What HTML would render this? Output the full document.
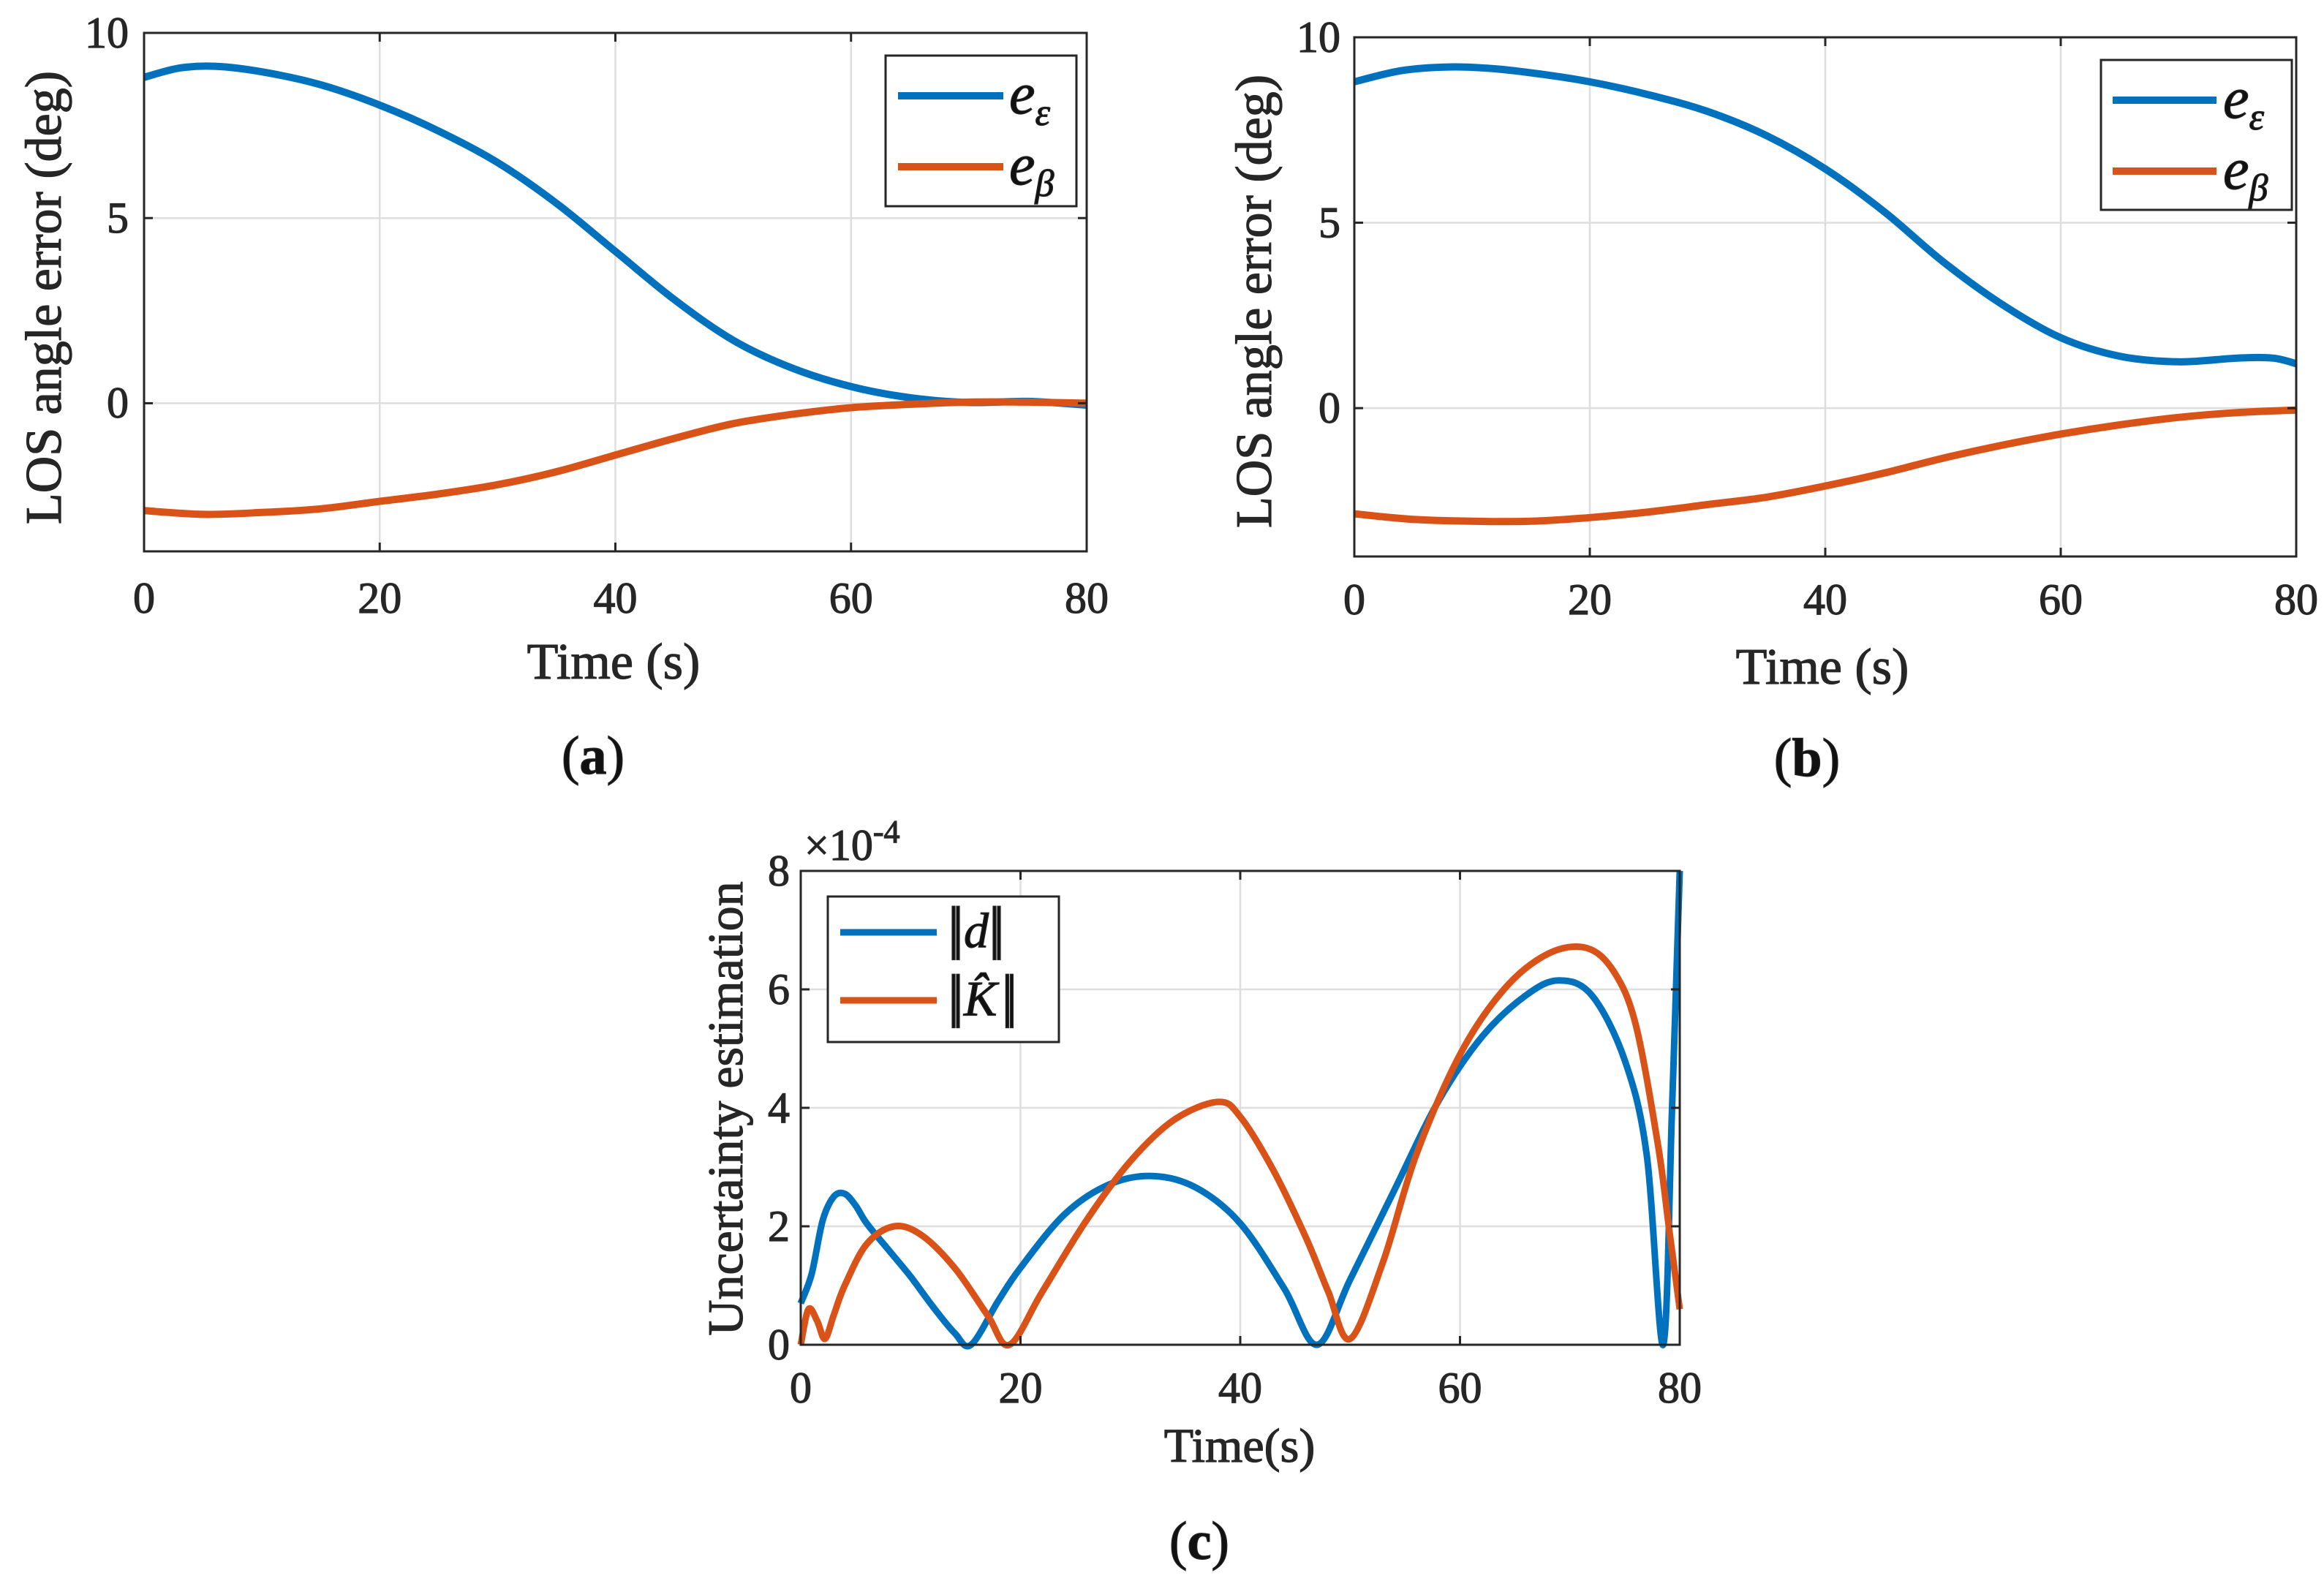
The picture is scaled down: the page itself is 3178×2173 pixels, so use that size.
<!DOCTYPE html>
<html><head><meta charset="utf-8">
<style>
html,body{margin:0;padding:0;background:#fff;}
svg{display:block;font-family:"Liberation Serif","DejaVu Serif",serif;}
svg text{stroke:currentColor;stroke-width:1.2;}
</style></head>
<body>
<svg id="fig" width="3178" height="2173" viewBox="0 0 3178 2173" xmlns="http://www.w3.org/2000/svg" style="color:#262626">
</svg>
<script>
// ---- data ----
const aTime = [0,3,6,10,15,20,25,30,35,40,45,50,55,60,65,70,75,80];
const aEps  = [8.8,9.05,9.1,8.95,8.6,8.05,7.35,6.5,5.4,4.1,2.8,1.7,0.95,0.45,0.15,0.02,0.05,-0.05];
const aBetaT = [0,5,10,15,20,25,30,35,40,45,50,55,60,65,70,75,80];
const aBeta = [-2.9,-3.0,-2.95,-2.85,-2.65,-2.45,-2.2,-1.85,-1.4,-0.95,-0.55,-0.3,-0.12,-0.03,0.03,0.03,0];
const bTime = [0,4,8,12,16,20,25,30,35,40,45,50,55,60,65,70,75,78,80];
const bEps  = [8.8,9.1,9.2,9.15,9.0,8.8,8.45,8.0,7.35,6.45,5.3,3.95,2.8,1.9,1.4,1.25,1.35,1.35,1.2];
const bBetaT = [0,5,10,15,20,25,30,35,40,45,50,55,60,65,70,75,80];
const bBeta = [-2.85,-3.0,-3.05,-3.05,-2.95,-2.8,-2.6,-2.4,-2.1,-1.75,-1.35,-1.0,-0.7,-0.45,-0.25,-0.12,-0.05];
const cDT = [0,1,2,3,4,5,6,8,10,12,14,15.5,18,20,24,28,32,36,40,44,47,50,54,58,62,66,69,72,75,77,78.5,79.3,80];
const cD  = [0.7,1.2,2.1,2.5,2.55,2.35,2.05,1.6,1.15,0.65,0.2,0,0.75,1.3,2.2,2.7,2.85,2.65,2.05,0.95,0,1.1,2.6,4.1,5.2,5.9,6.15,5.9,4.8,3.2,0,4,8];
const cKT = [0,0.7,1.5,2.2,3,4,6,8.5,11,14,17,19,22,26,30,34,38,40,43,46,48,50,53,56,60,64,68,71.5,74,76,78,79,80];
const cK  = [0,0.6,0.4,0.1,0.5,1.0,1.7,2.0,1.85,1.3,0.5,0,0.9,2.1,3.1,3.8,4.1,3.85,2.95,1.8,0.9,0.1,1.4,3.2,4.9,6.0,6.6,6.7,6.3,5.4,3.4,2.0,0.6];
const xTicks = [0,20,40,60,80];
const yTicksAB = [0,5,10];
const yTicksC = [0,2,4,6,8];

const NS="http://www.w3.org/2000/svg";
const svg=document.getElementById('fig');
function mk(tag,attrs,parent){const e=document.createElementNS(NS,tag);for(const k in attrs)e.setAttribute(k,attrs[k]);(parent||svg).appendChild(e);return e;}
function txt(s,attrs,parent){const e=mk('text',attrs,parent);e.textContent=s;return e;}
function smooth(pts){
  let d='M'+pts[0][0].toFixed(1)+','+pts[0][1].toFixed(1);
  for(let i=0;i<pts.length-1;i++){
    const p0=pts[i-1]||pts[i],p1=pts[i],p2=pts[i+1],p3=pts[i+2]||p2;
    const c1=[p1[0]+(p2[0]-p0[0])/6,p1[1]+(p2[1]-p0[1])/6];
    const c2=[p2[0]-(p3[0]-p1[0])/6,p2[1]-(p3[1]-p1[1])/6];
    d+='C'+c1[0].toFixed(1)+','+c1[1].toFixed(1)+' '+c2[0].toFixed(1)+','+c2[1].toFixed(1)+' '+p2[0].toFixed(1)+','+p2[1].toFixed(1);
  }
  return d;
}
function axes(cfg){
  const g=mk('g',{});
  
  
  const X=v=>cfg.L+(v-cfg.x0)/(cfg.x1-cfg.x0)*(cfg.R-cfg.L);
  const Y=v=>cfg.B-(v-cfg.y0)/(cfg.y1-cfg.y0)*(cfg.B-cfg.T);
  cfg.xt.forEach(v=>{const l=mk('line',{x1:X(v),x2:X(v),y1:cfg.T,y2:cfg.B,stroke:'#dedede','stroke-width':2.5},g);
    });
  cfg.yt.forEach(v=>{const l=mk('line',{x1:cfg.L,x2:cfg.R,y1:Y(v),y2:Y(v),stroke:'#dedede','stroke-width':2.5},g);
    });
  cfg.series.forEach(s=>{
    const pts=s.t.map((t,i)=>[X(t),Y(s.v[i])]);
    const p=mk('path',{d:smooth(pts),fill:'none',stroke:s.c,'stroke-width':cfg.lw,'stroke-linejoin':'round','stroke-linecap':'butt'},g);
    
  });
  const bx=mk('rect',{x:cfg.L,y:cfg.T,width:cfg.R-cfg.L,height:cfg.B-cfg.T,fill:'none',stroke:'#262626','stroke-width':3},g);
  
  cfg.xt.forEach(v=>{
    mk('line',{x1:X(v),x2:X(v),y1:cfg.B,y2:cfg.B-12,stroke:'#262626','stroke-width':3},g);
    mk('line',{x1:X(v),x2:X(v),y1:cfg.T,y2:cfg.T+12,stroke:'#262626','stroke-width':3},g);
    const t=txt(String(v),{x:X(v),y:cfg.xly,'text-anchor':'middle','font-size':cfg.fs,fill:'#262626'},g);
    
  });
  cfg.yt.forEach(v=>{
    mk('line',{x1:cfg.L,x2:cfg.L+12,y1:Y(v),y2:Y(v),stroke:'#262626','stroke-width':3},g);
    mk('line',{x1:cfg.R,x2:cfg.R-12,y1:Y(v),y2:Y(v),stroke:'#262626','stroke-width':3},g);
    const t=txt(String(v),{x:cfg.ylx,y:Y(v)+cfg.fs*0.33,'text-anchor':'end','font-size':cfg.fs,fill:'#262626'},g);
    
  });
  return {g,X,Y};
}
function legend(box,items,lw,fs){
  const g=mk('g',{});
  
  
  mk('rect',{x:box[0],y:box[1],width:box[2]-box[0],height:box[3]-box[1],fill:'#fff',stroke:'#262626','stroke-width':3},g);
  items.forEach(it=>{
    const e=mk('g',{},g);
    
    
    mk('line',{x1:it.x1,x2:it.x2,y1:it.y,y2:it.y,stroke:it.c,'stroke-width':lw},e);
    const t=mk('text',{x:it.tx,y:it.y+fs*0.3,'font-size':fs,fill:'#111','font-style':'italic'},e);
    t.innerHTML=it.html;
  });
}
axes({name:'plot-a',L:197,R:1486,T:45,B:754,x0:0,x1:80,y0:-4,y1:10,xt:xTicks,yt:yTicksAB,fs:60,xly:838,ylx:176,lw:10,
  series:[{name:'line-e-epsilon',t:aTime,v:aEps,c:'#0072BD'},{name:'line-e-beta',t:aBetaT,v:aBeta,c:'#D95319'}]});
legend([1211,76,1472,282],[
  {x1:1228,x2:1372,y:131,c:'#0072BD',tx:1380,html:'e<tspan font-size="52" dy="16">ε</tspan>'},
  {x1:1228,x2:1372,y:228,c:'#D95319',tx:1380,html:'e<tspan font-size="52" dy="16">β</tspan>'}],10,80);
axes({name:'plot-b',L:1852,R:3140,T:51,B:761,x0:0,x1:80,y0:-4,y1:10,xt:xTicks,yt:yTicksAB,fs:60,xly:840,ylx:1833,lw:10,
  series:[{name:'line-e-epsilon',t:bTime,v:bEps,c:'#0072BD'},{name:'line-e-beta',t:bBetaT,v:bBeta,c:'#D95319'}]});
legend([2873,82,3134,287],[
  {x1:2889,x2:3031,y:137,c:'#0072BD',tx:3040,html:'e<tspan font-size="52" dy="16">ε</tspan>'},
  {x1:2889,x2:3031,y:234,c:'#D95319',tx:3040,html:'e<tspan font-size="52" dy="16">β</tspan>'}],10,80);
axes({name:'plot-c',L:1095,R:2297,T:1191,B:1839,x0:0,x1:80,y0:0,y1:8,xt:xTicks,yt:yTicksC,fs:60,xly:1918,ylx:1080,lw:9,
  series:[{name:'line-d-norm',t:cDT,v:cD,c:'#0072BD'},{name:'line-k-hat-norm',t:cKT,v:cK,c:'#D95319'}]});
legend([1132,1226,1448,1425],[
  {x1:1149,x2:1281,y:1275,c:'#0072BD',tx:1296,html:'<tspan font-style="normal" font-size="80">|</tspan><tspan font-style="normal" font-size="80" dx="-10">|</tspan>d<tspan font-style="normal" font-size="80">|</tspan><tspan font-style="normal" font-size="80" dx="-10">|</tspan>'},
  {x1:1149,x2:1281,y:1368,c:'#D95319',tx:1296,html:'<tspan font-style="normal" font-size="80">|</tspan><tspan font-style="normal" font-size="80" dx="-10">|</tspan>K̂<tspan font-style="normal" font-size="80" dx="6">|</tspan><tspan font-style="normal" font-size="80" dx="-10">|</tspan>'}],9,68);
function label(s,attrs,name){const t=txt(s,attrs);return t;}
label('Time (s)',{x:839,y:928,'text-anchor':'middle','font-size':70,fill:'#262626'},'x-axis-title-a');
label('Time (s)',{x:2492,y:935,'text-anchor':'middle','font-size':70,fill:'#262626'},'x-axis-title-b');
label('Time(s)',{x:1695,y:1999,'text-anchor':'middle','font-size':66,fill:'#262626'},'x-axis-title-c');
label('LOS angle error (deg)',{x:0,y:0,'text-anchor':'middle','font-size':70,fill:'#262626',transform:'translate(83,407) rotate(-90)'},'y-axis-title-a');
label('LOS angle error (deg)',{x:0,y:0,'text-anchor':'middle','font-size':70,fill:'#262626',transform:'translate(1738,412) rotate(-90)'},'y-axis-title-b');
label('Uncertainty estimation',{x:0,y:0,'text-anchor':'middle','font-size':68,fill:'#262626',transform:'translate(1015,1516) rotate(-90)'},'y-axis-title-c');
const ex=label('',{x:1100,y:1176,'font-size':60,fill:'#262626'},'y-axis-exponent-c');
ex.innerHTML='×10<tspan font-size="44" dy="-24">-4</tspan>';
const ca=label('',{x:811,y:1058,'text-anchor':'middle','font-size':74,fill:'#111'},'caption-a');ca.innerHTML='(<tspan font-weight="bold">a</tspan>)';
const cb=label('',{x:2471,y:1061,'text-anchor':'middle','font-size':74,fill:'#111'},'caption-b');cb.innerHTML='(<tspan font-weight="bold">b</tspan>)';
const cc=label('',{x:1640,y:2132,'text-anchor':'middle','font-size':74,fill:'#111'},'caption-c');cc.innerHTML='(<tspan font-weight="bold">c</tspan>)';
</script>
</body></html>
